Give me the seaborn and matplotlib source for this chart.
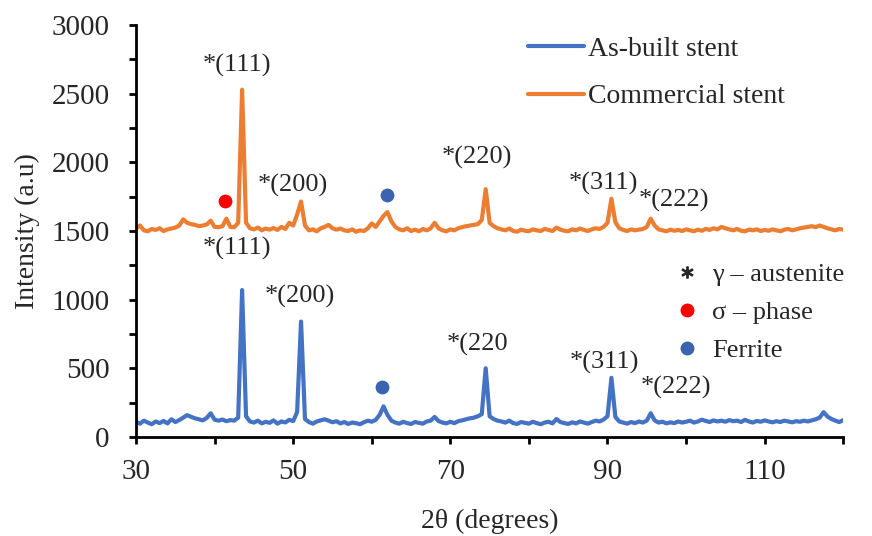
import numpy as np
import matplotlib.pyplot as plt
import seaborn as sns
from matplotlib.lines import Line2D

# scan angle grid, 0.5 deg step
two_theta = np.arange(30, 120.5, 0.5)

as_built = [
    110, 96, 118, 104, 92, 112, 100, 116, 98, 128,
    108, 122, 140, 158, 146, 135, 128, 120, 138, 172,
    125, 118, 126, 114, 122, 118, 140, 1070, 150, 112,
    104, 118, 98, 110, 102, 120, 96, 112, 105, 124,
    115, 180, 840, 130, 108, 96, 112, 120, 128, 118,
    106, 114, 98, 108, 94, 104, 100, 92, 106, 118,
    110, 124, 160, 222, 160, 118, 104, 96, 110, 100,
    94, 108, 102, 96, 112, 118, 145, 115, 104, 98,
    110, 100, 114, 120, 128, 135, 140, 150, 165, 500,
    150, 130, 118, 112, 104, 118, 100, 94, 108, 102,
    96, 110, 100, 92, 104, 110, 98, 130, 108, 100,
    94, 106, 98, 112, 104, 96, 108, 118, 112, 126,
    150, 430, 145, 112, 104, 96, 108, 100, 112, 104,
    118, 172, 120, 104, 110, 98, 106, 100, 112, 104,
    110, 118, 104, 112, 125, 116, 108, 120, 112, 118,
    110, 122, 114, 118, 108, 124, 112, 104, 116, 110,
    120, 112, 106, 114, 108, 118, 112, 106, 114, 110,
    118, 112, 120, 128, 140, 180, 148, 130, 118, 108,
    122,
]

commercial = [
    1520, 1540, 1505, 1498, 1515, 1508, 1520, 1500, 1512, 1518,
    1525, 1540, 1585, 1560, 1550, 1545, 1535, 1540, 1548, 1575,
    1530, 1528, 1535, 1590, 1530, 1528, 1560, 2530, 1560, 1520,
    1512, 1525, 1505, 1518, 1510, 1522, 1508, 1530, 1515, 1560,
    1540, 1620, 1715, 1540, 1505, 1512, 1498, 1520, 1530, 1545,
    1520, 1510, 1518, 1505, 1500, 1512, 1495, 1505, 1500, 1520,
    1555, 1530, 1570, 1610, 1638, 1570, 1530, 1512, 1505, 1520,
    1500, 1510, 1498, 1515, 1505, 1520, 1560, 1520, 1505, 1498,
    1512, 1505, 1520, 1528, 1535, 1540, 1545, 1550, 1580, 1805,
    1560, 1535, 1520, 1512, 1505, 1518, 1500, 1495, 1510, 1502,
    1498, 1512, 1505, 1500, 1515, 1508, 1500, 1525, 1510, 1502,
    1498, 1512, 1505, 1518, 1508, 1500, 1512, 1520, 1515, 1530,
    1560, 1735, 1565, 1520, 1508, 1500, 1512, 1505, 1510, 1515,
    1530, 1590, 1540, 1512, 1505, 1498, 1510, 1502, 1508, 1500,
    1512, 1505, 1498, 1510, 1502, 1515, 1508, 1520, 1512, 1530,
    1520, 1512, 1505, 1515, 1502, 1498, 1510, 1505, 1512, 1500,
    1508, 1502, 1512, 1505, 1498, 1510, 1515, 1505, 1512, 1520,
    1525, 1530, 1535, 1528, 1540, 1530, 1520, 1512, 1505, 1515,
    1510,
]

# peak labels (text, x, y)
peak_labels = ['*(111)', '*(200)', '*(220)', '*(311)', '*(222)',
               '*(111)', '*(200)', '*(220', '*(311)', '*(222)']
label_x = [42.8, 50.0, 73.4, 89.5, 98.4, 42.8, 50.9, 73.5, 89.6, 98.7]
label_y = [2710, 1835, 2035, 1850, 1725, 1375, 1020, 670, 540, 360]

# phase markers
sigma_x = [41.3]
sigma_y = [1720]
ferrite_x = [62.0, 61.3]
ferrite_y = [1762, 360]

x_ticks = np.arange(30, 121, 10)
x_tick_labels = ['30', '', '50', '', '70', '', '90', '', '110', '']
y_ticks = np.arange(0, 3001, 250)
y_tick_labels = ['0', '', '500', '', '1000', '', '1500', '', '2000', '', '2500', '', '3000']

blue = '#4472C4'
orange = '#ED7D31'
ferrite_col = '#3B64B0'
txt_col = '#262626'

sns.set_theme(style='ticks')
plt.rcParams['font.family'] = ['Liberation Serif', 'DejaVu Serif']

fig, ax = plt.subplots(figsize=(8.72, 5.36), dpi=100)
fig.subplots_adjust(left=0.156, right=0.967, bottom=0.185, top=0.953)

sns.lineplot(x=two_theta, y=as_built, color=blue, linewidth=3, ax=ax)
sns.lineplot(x=two_theta, y=commercial, color=orange, linewidth=3, ax=ax)

ax.scatter(sigma_x, sigma_y, s=80, color='#FF0000', zorder=5)
ax.scatter(ferrite_x, ferrite_y, s=80, color=ferrite_col, zorder=5)

for t, x, y in zip(peak_labels, label_x, label_y):
    ax.text(x, y, t, ha='center', va='center', fontsize=19, color=txt_col)

ax.set_xlim(30, 120)
ax.set_ylim(0, 3000)
ax.set_xticks(x_ticks)
ax.set_xticklabels(x_tick_labels)
ax.set_yticks(y_ticks)
ax.set_yticklabels(y_tick_labels)
ax.tick_params(axis='both', direction='out', length=5, width=2, labelsize=21,
               colors='black', labelcolor=txt_col)
ax.tick_params(axis='x', pad=11)
ax.tick_params(axis='y', pad=14)
for s in ['left', 'bottom']:
    ax.spines[s].set_linewidth(2)
    ax.spines[s].set_color('black')
sns.despine(ax=ax)

ax.set_xlabel('2θ (degrees)', fontsize=20, color=txt_col, labelpad=17)
ax.set_ylabel('Intensity (a.u)', fontsize=20, color=txt_col, labelpad=8)

h1 = [Line2D([], [], color=blue, lw=3), Line2D([], [], color=orange, lw=3)]
leg1 = ax.legend(h1, ['As-built stent', 'Commercial stent'], loc='upper left',
                 bbox_to_anchor=(0.535, 1.007), frameon=False, fontsize=20,
                 handlelength=2.0, handletextpad=0.15, labelspacing=0.8, borderpad=0)
for t in leg1.get_texts():
    t.set_color(txt_col)
ax.add_artist(leg1)

h2 = [Line2D([], [], ls='', marker='$*$', color=txt_col, markersize=8),
      Line2D([], [], ls='', marker='o', color='#FF0000', markersize=9),
      Line2D([], [], ls='', marker='o', color=ferrite_col, markersize=9)]
leg2 = ax.legend(h2, ['γ – austenite', 'σ – phase', 'Ferrite'], loc='upper left',
                 bbox_to_anchor=(0.744, 0.455), frameon=False, fontsize=19,
                 handlelength=0.9, handletextpad=0.5, labelspacing=0.55, borderpad=0)
for t in leg2.get_texts():
    t.set_color(txt_col)

fig.savefig('out.png', dpi=100)
